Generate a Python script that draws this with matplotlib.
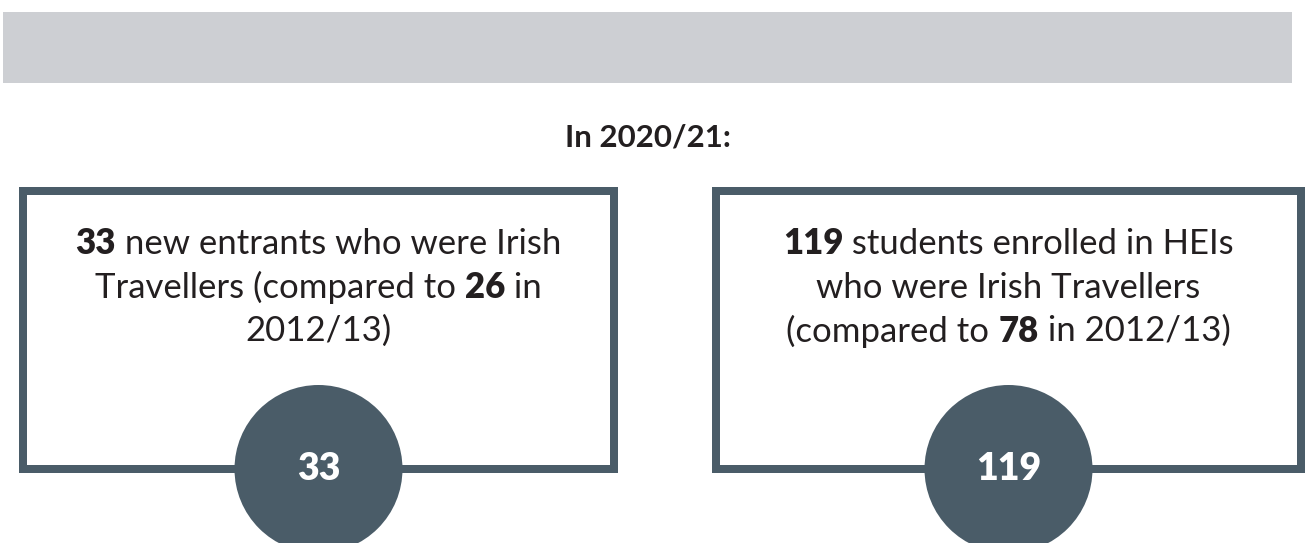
import matplotlib
matplotlib.use("Agg")
import matplotlib.pyplot as plt
from matplotlib.patches import Rectangle, Circle

# ---- data ----
headline = "In 2020/21:"
metric_values = [33, 119]
compare_values = [26, 78]
compare_year = "2012/13"
# lines of each card: list of (text, bold) segments
card_lines = [
    [[("33", True), (" new entrants who were Irish", False)],
     [("Travellers (compared to ", False), ("26", True), (" in", False)],
     [("2012/13)", False)]],
    [[("119", True), (" students enrolled in HEIs", False)],
     [("who were Irish Travellers", False)],
     [("(compared to ", False), ("78", True), (" in 2012/13)", False)]],
]

W, H = 1306, 543
DARK = "#4A5C68"
BAND = "#CDCFD3"
TXT = "#231F20"
FONT = "Lato"

fig = plt.figure(figsize=(W / 100, H / 100), dpi=100)
ax = fig.add_axes([0, 0, 1, 1])
ax.set_xlim(0, W)
ax.set_ylim(H, 0)
ax.axis("off")

# top band
ax.add_patch(Rectangle((3, 12), 1289, 71, facecolor=BAND, edgecolor="none"))

ax.text(648, 137, headline, ha="center", va="center", fontsize=22.5,
        fontweight="bold", family=FONT, color=TXT)

boxes = [(19, 187, 599, 286), (712, 187, 593, 286)]
bw = 8
fig.canvas.draw()
renderer = fig.canvas.get_renderer()


def draw_line(cx, cy, segs, size):
    arts = []
    widths = []
    for s, b in segs:
        t = ax.text(0, cy, s, ha="left", va="center", fontsize=size,
                    fontweight="heavy" if b else "normal", family=FONT, color=TXT)
        bb = t.get_window_extent(renderer=renderer)
        arts.append(t)
        widths.append(bb.width)
    total = sum(widths)
    x = cx - total / 2
    for t, w in zip(arts, widths):
        t.set_x(x)
        x += w


for (x0, y0, w, h), lines, val in zip(boxes, card_lines, metric_values):
    ax.add_patch(Rectangle((x0 + bw / 2, y0 + bw / 2), w - bw, h - bw,
                           facecolor="white", edgecolor=DARK, linewidth=bw * 0.72))
    cx = x0 + w / 2
    for i, segs in enumerate(lines):
        draw_line(cx, 244 + i * 43.5, segs, 25)
    ax.add_patch(Circle((cx, y0 + h - bw / 2), 84, facecolor=DARK, edgecolor="none", zorder=3))
    ax.text(cx, y0 + h - bw / 2, str(val), ha="center", va="center", fontsize=27,
            fontweight="heavy", family=FONT, color="white", zorder=4)

fig.savefig("out.png", dpi=100)
